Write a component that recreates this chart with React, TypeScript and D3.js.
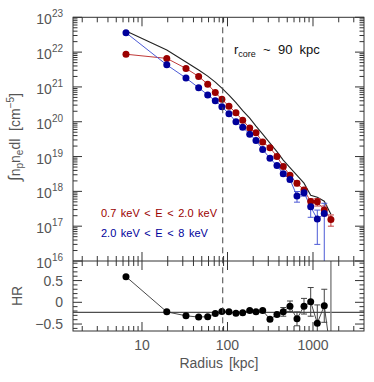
import React from "react";
import * as d3 from "d3";

// Radii [kpc] of the annuli
const radii = [6.5, 19.5, 32.7, 46, 58.7, 72, 86, 104, 125.6, 150.6, 182, 215.5, 258, 314, 379, 449, 538, 650, 785, 940, 1123, 1355, 1620];
// soft band 0.7-2.0 keV (red)
const softValues = [8.7e21, 6.6e21, 3.4e21, 2.0e21, 1.2e21, 6.9e20, 4.4e20, 2.8e20, 1.8e20, 1.1e20, 6.6e19, 4.8e19, 2.6e19, 1.8e19, 1.0e19, 5.2e18, 2.9e18, 1.7e18, 1.1e18, 5.1e17, 5.0e17, 2.9e17, 1.55e17];
const softErr = [0, 0, 0, 0, 0, 0, 0, 0, 0, 0, 0, 0, 0, 0, 0, 0.4e18, 0.3e18, 0.25e18, 0.2e18, 1.0e17, 1.2e17, 0.9e17, 0.55e17];
// hard band 2.0-8 keV (blue)
const hardValues = [3.6e22, 4.3e21, 1.8e21, 9.5e20, 5.9e20, 4.0e20, 2.7e20, 1.7e20, 1.0e20, 6.9e19, 4.4e19, 2.9e19, 1.6e19, 8.9e18, 5.5e18, 3.2e18, 2.2e18, 7.4e17, 9.1e17, 3.6e17, 1.6e17, 2.3e17, null];
const hardErr = [0, 0, 0, 0, 0, 0, 0, 0, 0, 0, 0, 0, 0, 0, 0, 0.4e18, 0.3e18, 2.5e17, 1.8e17, 1.8e17, 1.3e17, 2.25e17, null];
// total band (black line)
const totalValues = [4.04e22, 1.15e22, 5.2e21, 3.05e21, 2.05e21, 1.38e21, 9.3e20, 5.8e20, 3.55e20, 2.09e20, 1.27e20, 7.5e19, 4.4e19, 2.43e19, 1.38e19, 7.9e18, 4.8e18, 2.9e18, 1.72e18, 7.7e17, 6.8e17, 5.2e17, 2.2e17];
// hardness ratio
const hrValues = [0.59, -0.22, -0.31, -0.34, -0.33, -0.26, -0.21, -0.22, -0.25, -0.24, -0.19, -0.22, -0.19, -0.39, -0.28, -0.22, -0.09, -0.38, -0.09, 0.01, -0.48, -0.08, -1.2];
const hrErr = [0.02, 0.02, 0.02, 0.02, 0.02, 0.02, 0.02, 0.02, 0.02, 0.02, 0.02, 0.02, 0.02, 0.03, 0.04, 0.1, 0.12, 0.16, 0.18, 0.33, 0.42, 0.38, 3];
const hrRef = -0.23;
const rCore = 88;

const yExponents = [16, 17, 18, 19, 20, 21, 22, 23];
const hrTicks = [-0.5, 0, 0.5];
const xMajor = [10, 100, 1000];
const legendLabels = ["0.7 keV < E < 2.0 keV", "2.0 keV < E < 8 keV"];

const W = 374, H = 382;
const L = 73, R = 364, T = 17.3, MID = 261, B = 331;
const RED = "#9b0000", BLUE = "#00009b";
const RED_L = "#c03a3a", BLUE_L = "#4c5ad6";
const AX = "#333";
const TXT = "#555";
const FONT = "'Liberation Sans', Arial, sans-serif";
const NB = "\u00a0";

export default function App() {
  const x = d3.scaleLog().domain([1.56, 3950]).range([L, R]);
  const y = d3.scaleLog().domain([1e16, 1e23]).range([MID, T]);
  const yh = d3.scaleLinear().domain([-0.66, 0.95]).range([B, MID]);

  const minorX: number[] = [];
  for (let k = 0; k <= 3; k++) for (let m = 2; m <= 9; m++) {
    const v = m * Math.pow(10, k);
    if (v > 1.56 && v < 3950) minorX.push(v);
  }
  const minorY: number[] = [];
  for (let e = 16; e < 23; e++) for (let m = 2; m <= 9; m++) minorY.push(m * Math.pow(10, e));
  const minorH: number[] = d3.range(-6, 10).map((i) => i / 10);

  const line = d3.line<[number, number]>().x((d) => d[0]).y((d) => d[1]);
  const soft = radii.map((r, i) => [x(r), y(softValues[i])] as [number, number]);
  const hardIdx = radii.map((_, i) => i).filter((i) => hardValues[i] != null);
  const hard = hardIdx.map((i) => [x(radii[i]), y(hardValues[i] as number)] as [number, number]);
  const total = radii.map((r, i) => [x(r), y(totalValues[i])] as [number, number]);
  const hr = radii.map((r, i) => [x(r), yh(hrValues[i])] as [number, number]);

  const ey = (v: number, e: number) => [y(v + e), v - e > 0 ? y(v - e) : MID + 50];

  const tickLine = (x1: number, y1: number, x2: number, y2: number, key: string) => (
    <line key={key} x1={x1} y1={y1} x2={x2} y2={y2} stroke={AX} strokeWidth={1} />
  );

  return (
    <svg width={W} height={H} style={{ position: "absolute", left: 0, top: 0, background: "#fff" }} fontFamily={FONT}>
      <defs>
        <clipPath id="cTop"><rect x={L} y={T} width={R - L} height={MID - T} /></clipPath>
        <clipPath id="cBot"><rect x={L} y={MID} width={R - L} height={B - MID} /></clipPath>
      </defs>

      {/* top panel data */}
      <g clipPath="url(#cTop)">
        <path d={line(total) || ""} fill="none" stroke="#222" strokeWidth={1.1} />
        <path d={line(soft) || ""} fill="none" stroke={RED_L} strokeWidth={1} />
        <path d={line(hard) || ""} fill="none" stroke={BLUE_L} strokeWidth={1} />
        {radii.map((r, i) => {
          if (!softErr[i]) return null;
          const [a, b] = ey(softValues[i], softErr[i]);
          const cx = x(r);
          return (
            <g key={"se" + i} stroke={RED_L} strokeWidth={1}>
              <line x1={cx} x2={cx} y1={a} y2={b} />
              <line x1={cx - 3} x2={cx + 3} y1={a} y2={a} />
              <line x1={cx - 3} x2={cx + 3} y1={b} y2={b} />
            </g>
          );
        })}
        {hardIdx.map((i) => {
          const e = hardErr[i] as number;
          if (!e) return null;
          const [a, b] = ey(hardValues[i] as number, e);
          const cx = x(radii[i]);
          return (
            <g key={"he" + i} stroke={BLUE_L} strokeWidth={1}>
              <line x1={cx} x2={cx} y1={a} y2={b} />
              <line x1={cx - 3} x2={cx + 3} y1={a} y2={a} />
              <line x1={cx - 3} x2={cx + 3} y1={b} y2={b} />
            </g>
          );
        })}
        {soft.map((p, i) => <circle key={"s" + i} cx={p[0]} cy={p[1]} r={3.5} fill={RED} />)}
        {hard.map((p, i) => <circle key={"h" + i} cx={p[0]} cy={p[1]} r={3.5} fill={BLUE} />)}
      </g>

      {/* bottom panel data */}
      <g clipPath="url(#cBot)">
        <line x1={L} x2={R} y1={yh(hrRef)} y2={yh(hrRef)} stroke="#222" strokeWidth={1} />
        <path d={line(hr) || ""} fill="none" stroke="#333" strokeWidth={0.9} />
        {radii.map((r, i) => {
          const cx = x(r);
          const a = yh(hrValues[i] + hrErr[i]);
          const b = yh(hrValues[i] - hrErr[i]);
          const col = hrErr[i] > 1 ? "#888" : "#444";
          return (
            <g key={"hre" + i} stroke={col} strokeWidth={hrErr[i] > 1 ? 1.5 : 1}>
              <line x1={cx} x2={cx} y1={a} y2={b} />
              <line x1={cx - 3} x2={cx + 3} y1={a} y2={a} />
              <line x1={cx - 3} x2={cx + 3} y1={b} y2={b} />
            </g>
          );
        })}
        {hr.map((p, i) => <circle key={"hr" + i} cx={p[0]} cy={p[1]} r={3.5} fill="#000" />)}
      </g>

      {/* core radius dashed line */}
      <line x1={x(rCore)} x2={x(rCore)} y1={T} y2={B} stroke="#444" strokeWidth={1} strokeDasharray="6,4" />

      {/* frames */}
      <rect x={L} y={T} width={R - L} height={B - T} fill="none" stroke={AX} strokeWidth={1} />
      <line x1={L} x2={R} y1={MID} y2={MID} stroke={AX} strokeWidth={1} />

      {/* x ticks */}
      {xMajor.map((v) => (
        <g key={"xm" + v}>
          {tickLine(x(v), T, x(v), T + 9, "a")}
          {tickLine(x(v), MID - 9, x(v), MID + 9, "b")}
          {tickLine(x(v), B, x(v), B - 9, "c")}
        </g>
      ))}
      {minorX.map((v) => (
        <g key={"xn" + v}>
          {tickLine(x(v), T, x(v), T + 5, "a")}
          {tickLine(x(v), MID - 5, x(v), MID + 5, "b")}
          {tickLine(x(v), B, x(v), B - 5, "c")}
        </g>
      ))}

      {/* y ticks top */}
      {yExponents.map((e) => (
        <g key={"ym" + e}>
          {tickLine(L, y(Math.pow(10, e)), L + 9, y(Math.pow(10, e)), "a")}
          {tickLine(R, y(Math.pow(10, e)), R - 9, y(Math.pow(10, e)), "b")}
        </g>
      ))}
      {minorY.map((v, i) => (
        <g key={"yn" + i}>
          {tickLine(L, y(v), L + 4.5, y(v), "a")}
          {tickLine(R, y(v), R - 4.5, y(v), "b")}
        </g>
      ))}

      {/* y ticks bottom */}
      {minorH.map((v) => {
        const major = hrTicks.some((t) => Math.abs(t - v) < 1e-9);
        const len = major ? 9 : 4.5;
        return (
          <g key={"hn" + v}>
            {tickLine(L, yh(v), L + len, yh(v), "a")}
            {tickLine(R, yh(v), R - len, yh(v), "b")}
          </g>
        );
      })}

      {/* y tick labels */}
      {yExponents.map((e) => (
        <text key={"yl" + e} x={63} y={y(Math.pow(10, e)) + 7} textAnchor="end" fill={TXT} fontSize={14}>
          <tspan>10</tspan>
          <tspan dy={-7} fontSize={10}>{e}</tspan>
        </text>
      ))}
      {hrTicks.map((v) => (
        <text key={"hl" + v} x={63} y={yh(v) + 5} textAnchor="end" fill={TXT} fontSize={14}>
          {v < 0 ? "\u2212" + Math.abs(v) : String(v)}
        </text>
      ))}

      {/* x tick labels */}
      {xMajor.map((v) => (
        <text key={"xl" + v} x={x(v)} y={350} textAnchor="middle" fill={TXT} fontSize={14}>{v}</text>
      ))}
      <text x={219} y={368} textAnchor="middle" fill={TXT} fontSize={14} wordSpacing={2}>Radius [kpc]</text>

      {/* axis titles */}
      <text transform="translate(20,137) rotate(-90)" textAnchor="middle" fill={TXT} fontSize={14}>
        <tspan fontSize={17}>∫</tspan>
        <tspan>n</tspan>
        <tspan dy={3} fontSize={10}>p</tspan>
        <tspan dy={-3}>n</tspan>
        <tspan dy={3} fontSize={10}>e</tspan>
        <tspan dy={-3}>{"dl" + NB + NB + "[cm"}</tspan>
        <tspan dy={-6} fontSize={10}>−5</tspan>
        <tspan dy={6}>]</tspan>
      </text>
      <text transform="translate(22,296) rotate(-90)" textAnchor="middle" fill={TXT} fontSize={14}>HR</text>

      {/* annotations */}
      <text x={234} y={54} fill="#111" fontSize={13}>
        <tspan>r</tspan>
        <tspan dy={3} fontSize={9}>core</tspan>
        <tspan dy={-3}>{NB + NB + "~" + NB + NB + "90" + NB + NB + "kpc"}</tspan>
      </text>
      <text x={101} y={217} fill={RED} fontSize={11} wordSpacing={1.5}>{legendLabels[0]}</text>
      <text x={101} y={237} fill={BLUE} fontSize={11} wordSpacing={1.5}>{legendLabels[1]}</text>
    </svg>
  );
}
